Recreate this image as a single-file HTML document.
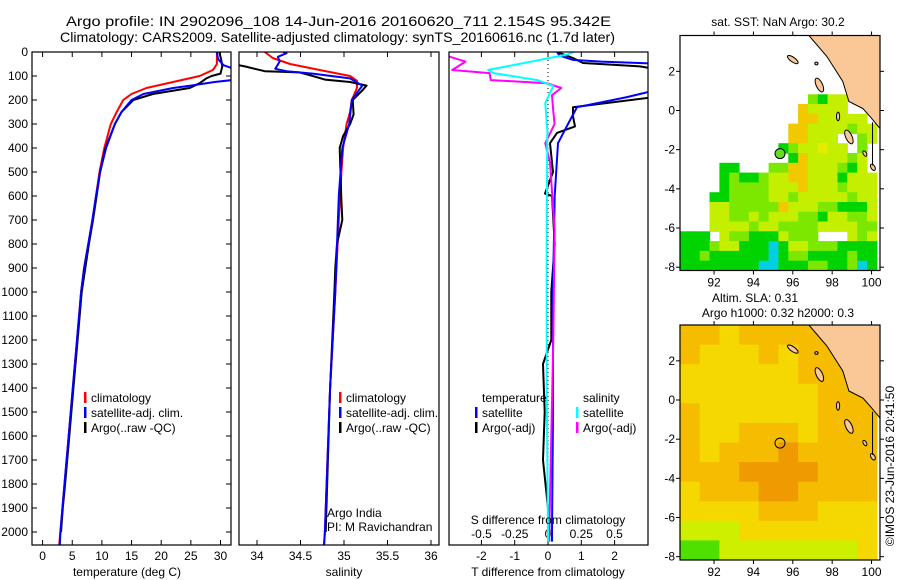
<!DOCTYPE html>
<html><head><meta charset="utf-8"><title>Argo profile</title>
<style>
html,body{margin:0;padding:0;background:#fff;}
svg{display:block;font-family:"Liberation Sans",sans-serif;}
text{font-size:12px;fill:#000;}
</style></head>
<body>
<svg id="chart" width="900" height="580" viewBox="0 0 900 580" xmlns="http://www.w3.org/2000/svg">
<rect x="0" y="0" width="900" height="580" fill="#fff"/>
<text x="66" y="26" style="font-size:14px" textLength="545" lengthAdjust="spacingAndGlyphs">Argo profile: IN 2902096_108 14-Jun-2016 20160620_711 2.154S 95.342E</text>
<text x="60" y="42" style="font-size:14px" textLength="555" lengthAdjust="spacingAndGlyphs">Climatology: CARS2009. Satellite-adjusted climatology: synTS_20160616.nc (1.7d later)</text>
</svg>
<script>
// ---------- DATA ----------
const yTicks=[0,100,200,300,400,500,600,700,800,900,1000,1100,1200,1300,1400,1500,1600,1700,1800,1900,2000];
const tTicks=[0,5,10,15,20,25,30];
const sTicks=[34,34.5,35,35.5,36];
const sTickLabels=["34","34.5","35","35.5","36"];
const dTTicks=[-2,-1,0,1,2];
const dSTicks=[-0.5,-0.25,0,0.25,0.5];
const dSTickLabels=["-0.5","-0.25","0","0.25","0.5"];

const tClimDepth=[0,50,65,75,100,125,150,175,200,250,300,400,500,600,700,800,900,1000,1200,1400,1600,1800,2000,2055];
const tClim=[29.4,29.4,29.0,28.7,26.5,22,17.5,15,13.6,12.5,11.5,10.4,9.6,9.0,8.4,7.7,7.0,6.5,5.8,5.1,4.4,3.7,3.0,2.8];
const tSatDepth=[0,30,55,67,100,117,125,140,150,175,200,250,300,400,500,600,700,800,900,1000,1200,1400,1600,1800,2000,2055];
const tSat=[29.4,29.6,30.5,31.9,34,31.9,29,25,22,17,15,13.3,12.2,10.7,9.7,9.0,8.4,7.7,7.0,6.5,5.8,5.1,4.4,3.7,3.0,2.9];
const tArgoDepth=[0,30,60,90,100,110,130,150,175,200,250,300,400,500,600,700,800,900,1000,1200,1400,1600,1800,1900,2000];
const tArgo=[29.8,30.1,30.3,30.0,28.5,27.6,26.5,24.8,18.6,15.3,13.3,12.2,10.6,9.7,9.1,8.5,7.8,7.2,6.6,5.9,5.2,4.5,3.8,3.4,3.1];

const sClimDepth=[0,25,50,75,100,120,150,200,250,300,400,500,700,1000,1400,2000,2055];
const sClim=[34.09,34.18,34.38,34.72,35.07,35.15,35.15,35.09,35.07,35.03,34.99,34.97,34.94,34.9,34.84,34.78,34.77];
const sSatDepth=[0,5,20,40,70,80,90,110,140,200,300,400,600,1000,1400,2000,2055];
const sSat=[34.3,34.34,34.24,34.26,34.21,34.34,34.64,35.07,35.21,35.09,35.06,34.98,34.94,34.9,34.84,34.78,34.77];
const sArgoDepth=[50,55,60,80,85,100,115,125,140,160,200,260,300,350,400,620,700,800,900,1000,1400,2000];
const sArgo=[33.6,33.79,33.86,34.09,34.49,34.64,34.78,35.07,35.26,35.21,35.1,35.11,35.07,34.99,34.95,34.97,34.98,34.92,34.9,34.89,34.84,34.79];

const dTSatDepth=[0,15,33,40,46,50,160,167,188,200,230,300,380,600,1000,1500,2000,2040];
const dTSat=[0.27,0.35,0.75,1.6,2.76,3.4,3.4,3.0,2.37,1.95,0.87,0.6,0.3,0.2,0.15,0.15,0.12,0.12];
const dTArgoDepth=[0,25,46,60,75,180,188,230,268,310,337,380,500,590,600,800,1000,1200,1300,1500,1700,1900,2000];
const dTArgo=[0.27,0.75,1.05,2.76,3.4,3.4,3.2,0.75,0.75,0.81,0.27,0.06,0.15,-0.09,0.12,0.2,0.1,0.1,-0.15,-0.1,-0.15,0.0,0.05];
const dSSatDepth=[0,10,75,88,117,142,170,212,325,800,1400,2000,2040];
const dSSat=[0.19,0.15,-0.45,-0.41,-0.08,0.04,0.015,-0.02,-0.005,-0.01,-0.01,0,0];
const dSArgoDepth=[0,18,40,75,88,117,130,150,180,247,300,380,460,740,1200,2000,2040];
const dSArgo=[-0.85,-0.75,-0.62,-0.72,-0.44,-0.43,-0.01,0.1,0.03,0.04,0.05,-0.02,0.015,0.05,0.04,0.01,0.01];

const mapLonTicks=[92,94,96,98,100];
const mapLatTicks=[2,0,-2,-4,-6,-8];
const sstRows=[
"wwwwwwwwwwwwwwwwwwwY","wwwwwwwwwwwwwwwwwwwY","wwwwwwwwwwwwwwwwwwww","wwwwwwwwwwwwwwwwwwww",
"wwwwwwwwwwwwwwwwwwww","wwwwwwwwwwwwwwwwwwww","wwwwwwwwwwwwwlgyywww","wwwwwwwwwwwwoyyyywww",
"wwwwwwwwwwwwooyyyyyw","wwwwwwwwwwwooyyyylyy","wwwwwwwwwwwooyyywwly","wwwwwwwwwwglyyYyywlw",
"wwwwwwwwwwwgoyyyylyw","wwwwggwwwllooyyylgyw","wwwwglgglyyooyyygyyy","wwwwgllllyyyoyyylyyy",
"wwwggllllyylyyyyylyy","wwwyyllllloyyyllgggy","wwwyyllylyyyllgyylly","wwwyyyylyyllllyyyyll",
"gggwyllgggylllwwwyly","ggglyygggcgyylllgggg","gglggggggcgllgggglgg","ggggggggccgggllgglcg"];
const slaRows=["ooYoooooll","oYYYoYoooo","YYYYYYoooo","YYYYYYYooo","oYYYYYYooo","oYYoooYooo",
"oYoooOoooo","oooOOOOooo","YoooOOoooo","YYYYoooYYY","lllYYYYYYY","gglllllllY"];
const coastLon=[96.82,97.73,98.54,98.85,99.56,99.97,100.43];
const coastLat=[3.83,2.76,1.48,0.46,0.10,-0.36,-0.92];
const argoLon=95.35, argoLat=-2.2;

// ---------- HELPERS ----------
const NS='http://www.w3.org/2000/svg';
const svg=document.getElementById('chart');
function mk(tag,attrs,parent){const e=document.createElementNS(NS,tag);for(const k in attrs)e.setAttribute(k,attrs[k]);(parent||svg).appendChild(e);return e;}
const TOP=52,BOT=545;
function yOf(d){return TOP+d*0.24;}
const xT=v=>42.6+v*5.93, xS=v=>257+(v-34)*87, xDT=v=>548+v*33.3, xDS=v=>548+v*133;
const panels=[{x0:32,x1:231,id:'temp'},{x0:239,x1:439,id:'sal'},{x0:449,x1:648,id:'diff'}];

const defs=mk('defs',{});
panels.forEach(p=>{const c=mk('clipPath',{id:'clip-'+p.id},defs);mk('rect',{x:p.x0,y:TOP,width:p.x1-p.x0,height:BOT-TOP},c);});

function frame(p,name){const r=mk('rect',{x:p.x0,y:TOP,width:p.x1-p.x0,height:BOT-TOP,fill:'none',stroke:'#000','stroke-width':1.2});

}
function line(depth,vals,fx,color,clip,name,w){
  let d='';for(let i=0;i<depth.length;i++){d+=(i?'L':'M')+fx(vals[i]).toFixed(1)+','+yOf(depth[i]).toFixed(1);}
  const pth=mk('path',{d:d,fill:'none',stroke:color,'stroke-width':w||2,'clip-path':'url(#clip-'+clip+')','stroke-linejoin':'round'});
  
  }
function txt(x,y,s,anchor,name,extra){const t=mk('text',Object.assign({x:x,y:y,'text-anchor':anchor||'start'},extra||{}));t.textContent=s;

return t;}
function tick(x1,y1,x2,y2,name){const l=mk('line',{x1:x1,y1:y1,x2:x2,y2:y2,stroke:'#000','stroke-width':1});

}
function legendItem(x,y,color,label,name){const r=mk('rect',{x:x,y:y-10,width:2.5,height:11,fill:color});


txt(x+7,y,label,'start',name+'-label');}

// ---------- PANEL 1: TEMPERATURE ----------
yTicks.forEach(d=>{txt(28,yOf(d)+4,String(d),'end','y-tick-label');tick(32,yOf(d),37,yOf(d),'y-tick');tick(226,yOf(d),231,yOf(d),'y-tick-right');});
tTicks.forEach(v=>{txt(xT(v),560,String(v),'middle','temp-tick-label');tick(xT(v),BOT,xT(v),BOT-5,'temp-tick');tick(xT(v),TOP,xT(v),TOP+5,'temp-tick-top');});
line(tClimDepth,tClim,xT,'#ff0000','temp','temp-climatology-line');
line(tArgoDepth,tArgo,xT,'#000000','temp','temp-argo-line');
line(tSatDepth,tSat,xT,'#0000ff','temp','temp-satellite-line');
frame(panels[0],'temperature-panel-frame');
txt(127,576,'temperature (deg C)','middle','temp-axis-title');
legendItem(84,402,'#ff0000','climatology','temp-legend-climatology');
legendItem(84,417,'#0000ff','satellite-adj. clim.','temp-legend-satellite');
legendItem(84,432,'#000000','Argo(..raw -QC)','temp-legend-argo');

// ---------- PANEL 2: SALINITY ----------
sTicks.forEach((v,i)=>{txt(xS(v),560,sTickLabels[i],'middle','sal-tick-label');tick(xS(v),BOT,xS(v),BOT-5,'sal-tick');tick(xS(v),TOP,xS(v),TOP+5,'sal-tick-top');});
line(sClimDepth,sClim,xS,'#ff0000','sal','sal-climatology-line');
line(sArgoDepth,sArgo,xS,'#000000','sal','sal-argo-line');
line(sSatDepth,sSat,xS,'#0000ff','sal','sal-satellite-line');
frame(panels[1],'salinity-panel-frame');
txt(344,576,'salinity','middle','sal-axis-title');
legendItem(339,402,'#ff0000','climatology','sal-legend-climatology');
legendItem(339,417,'#0000ff','satellite-adj. clim.','sal-legend-satellite');
legendItem(339,432,'#000000','Argo(..raw -QC)','sal-legend-argo');
txt(327,517,'Argo India','start','argo-india-label');
txt(327,531,'PI: M Ravichandran','start','pi-label');

// ---------- PANEL 3: DIFFERENCES ----------
const dot=mk('line',{x1:548,y1:TOP,x2:548,y2:BOT,stroke:'#000','stroke-width':1,'stroke-dasharray':'1,3'});


dTTicks.forEach(v=>{txt(xDT(v),560,String(v),'middle','tdiff-tick-label');tick(xDT(v),BOT,xDT(v),BOT-5,'tdiff-tick');tick(xDT(v),TOP,xDT(v),TOP+5,'tdiff-tick-top');});
dSTicks.forEach((v,i)=>{txt(xDS(v),538,dSTickLabels[i],'middle','sdiff-tick-label');});
line(dTArgoDepth,dTArgo,xDT,'#000000','diff','tdiff-argo-line');
line(dTSatDepth,dTSat,xDT,'#0000ff','diff','tdiff-satellite-line');
line(dSArgoDepth,dSArgo,xDS,'#ff00ff','diff','sdiff-argo-line');
line(dSSatDepth,dSSat,xDS,'#00ffff','diff','sdiff-satellite-line');
frame(panels[2],'difference-panel-frame');
txt(548,576,'T difference from climatology','middle','tdiff-axis-title');
txt(548,524,'S difference from climatology','middle','sdiff-axis-title');
txt(482,402,'temperature','start','diff-legend-temperature-header');
txt(583,402,'salinity','start','diff-legend-salinity-header');
legendItem(475,417,'#0000ff','satellite','diff-legend-t-satellite');
legendItem(475,432,'#000000','Argo(-adj)','diff-legend-t-argo');
legendItem(576,417,'#00ffff','satellite','diff-legend-s-satellite');
legendItem(576,432,'#ff00ff','Argo(-adj)','diff-legend-s-argo');

// ---------- MAPS ----------
const LON0=90.27,LON1=100.43,LAT0=3.83,LAT1=-8.17,MX0=680,MX1=880;
const sstColors={g:'#00d400',l:'#7ce800',y:'#c4f000',Y:'#e6ec00',o:'#f2c800',c:'#00d0e0'};
const slaColors={Y:'#f4d800',o:'#f6bc00',O:'#ee9a00',l:'#cef000',g:'#50e000'};
function drawMap(top,name,rows,colors,cell,argoFill){
  const bot=top+235;
  const mx=lon=>MX0+(lon-LON0)*(MX1-MX0)/(LON1-LON0);
  const my=lat=>top+(LAT0-lat)*(bot-top)/(LAT0-LAT1);
  const cid='clip-'+name;const c=mk('clipPath',{id:cid},defs);mk('rect',{x:MX0,y:top,width:MX1-MX0,height:bot-top},c);
  const g=mk('g',{'clip-path':'url(#'+cid+')'});
  
  
  rows.forEach((row,r)=>{for(let i=0;i<row.length;i++){const k=row[i];if(!colors[k])continue;
    const x=mx(LON0+i*cell),y=my(LAT0-r*cell);
    const rc=mk('rect',{x:x.toFixed(1),y:y.toFixed(1),width:(mx(LON0+(i+1)*cell)-x+0.6).toFixed(1),height:(my(LAT0-(r+1)*cell)-y+0.6).toFixed(1),fill:colors[k]},g);
    
    }});
  let pts=coastLon.map((lo,i)=>mx(lo).toFixed(1)+','+my(coastLat[i]).toFixed(1)).join(' ');
  pts+=' '+mx(LON1+0.2)+','+my(coastLat[coastLat.length-1])+' '+mx(LON1+0.2)+','+my(LAT0+0.2)+' '+mx(coastLon[0])+','+my(LAT0+0.2);
  const land=mk('polygon',{points:pts,fill:'#f9c896',stroke:'#000','stroke-width':1},g);
  
  
  const isl=[[96.0,2.6,0.32,0.12,35],[97.35,1.3,0.16,0.38,-25],[98.85,-1.35,0.16,0.38,-25],[98.3,-0.3,0.08,0.22,0],[99.66,-2.2,0.08,0.15,-30],[100.07,-2.9,0.1,0.18,-30],[97.2,2.4,0.08,0.07,0]];
  isl.forEach(s=>{const e=mk('ellipse',{cx:mx(s[0]),cy:my(s[1]),rx:s[2]*19.7,ry:s[3]*19.6,fill:'#f9c896',stroke:'#000','stroke-width':1,transform:'rotate('+s[4]+' '+mx(s[0])+' '+my(s[1])+')'},g);
    
    });
  const vl=mk('line',{x1:mx(100.05),y1:my(-0.6),x2:mx(100.05),y2:my(-2.8),stroke:'#000','stroke-width':1},g);
  
  
  const ci=mk('circle',{cx:mx(argoLon),cy:my(argoLat),r:5,fill:argoFill,stroke:'#000','stroke-width':1});
  
  
  const fr=mk('rect',{x:MX0,y:top,width:MX1-MX0,height:bot-top,fill:'none',stroke:'#000','stroke-width':1.2});
  
  
  mapLonTicks.forEach(lo=>{txt(mx(lo),bot+16,String(lo),'middle',name+'-lon-label');tick(mx(lo),top,mx(lo),top-4,name+'-lon-tick');tick(mx(lo),bot,mx(lo),bot+4,name+'-lon-tick-bottom');});
  mapLatTicks.forEach(la=>{txt(675,my(la)+4,String(la),'end',name+'-lat-label');tick(MX0,my(la),MX0-4,my(la),name+'-lat-tick');tick(MX1,my(la),MX1+4,my(la),name+'-lat-tick-right');});
}
drawMap(35.5,'sst-map',sstRows,sstColors,0.5,'#66dd22');
txt(778,26,'sat. SST: NaN Argo: 30.2','middle','sst-map-title');
drawMap(325,'sla-map',slaRows,slaColors,1.0,'none');
txt(755,302,'Altim. SLA: 0.31','middle','sla-map-title');
txt(778,317,'Argo h1000: 0.32 h2000: 0.3','middle','sla-map-subtitle');
txt(0,0,'©IMOS 23-Jun-2016 20:41:50','middle','imos-credit',{transform:'translate(894,466) rotate(-90)'});
</script>
</body></html>
